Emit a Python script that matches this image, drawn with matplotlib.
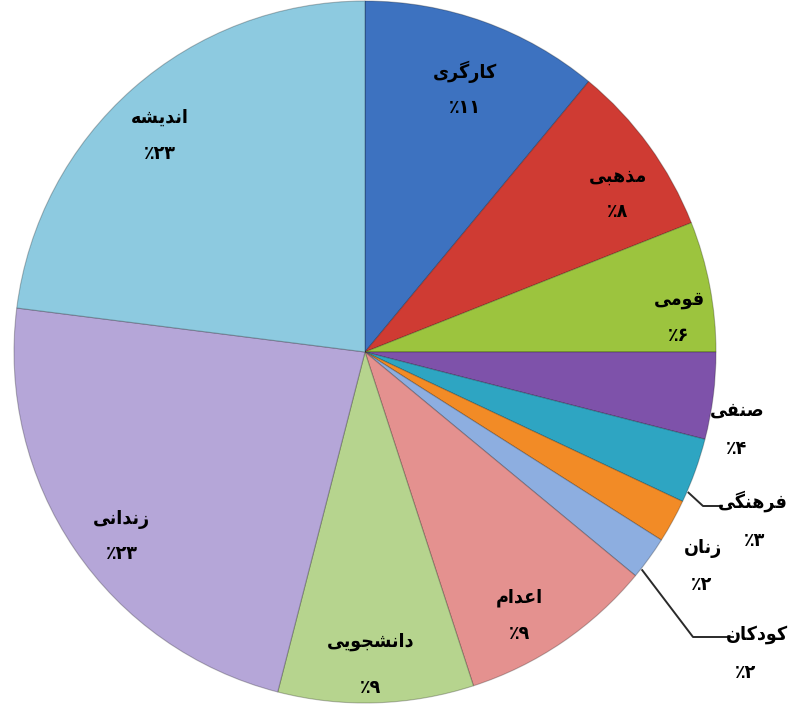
import matplotlib
matplotlib.use("Agg")
import matplotlib.pyplot as plt
import numpy as np

# ---- data ----
categories = ["کارگری", "مذهبی", "قومی", "صنفی", "فرهنگی", "زنان",
              "کودکان", "اعدام", "دانشجویی", "زندانی", "اندیشه"]
values = [11, 8, 6, 4, 3, 2, 2, 9, 9, 23, 23]
colors = ["#3d72c0", "#cf3b33", "#9cc43e", "#7e52aa", "#2ea5c2", "#f28b26",
          "#8daee0", "#e4918f", "#b6d48e", "#b5a6d8", "#8dcae0"]

# ---- minimal Arabic/Persian shaping (presentation forms, visual order) ----
FORMS = {
    "ا": ("\uFE8D", "\uFE8E"), "د": ("\uFEA9", "\uFEAA"), "ذ": ("\uFEAB", "\uFEAC"),
    "ر": ("\uFEAD", "\uFEAE"), "ز": ("\uFEAF", "\uFEB0"), "و": ("\uFEED", "\uFEEE"),
    "ب": ("\uFE8F", "\uFE90", "\uFE91", "\uFE92"),
    "ج": ("\uFE9D", "\uFE9E", "\uFE9F", "\uFEA0"),
    "ش": ("\uFEB5", "\uFEB6", "\uFEB7", "\uFEB8"),
    "ص": ("\uFEB9", "\uFEBA", "\uFEBB", "\uFEBC"),
    "ع": ("\uFEC9", "\uFECA", "\uFECB", "\uFECC"),
    "ف": ("\uFED1", "\uFED2", "\uFED3", "\uFED4"),
    "ق": ("\uFED5", "\uFED6", "\uFED7", "\uFED8"),
    "م": ("\uFEE1", "\uFEE2", "\uFEE3", "\uFEE4"),
    "ن": ("\uFEE5", "\uFEE6", "\uFEE7", "\uFEE8"),
    "ه": ("\uFEE9", "\uFEEA", "\uFEEB", "\uFEEC"),
    "ک": ("\uFB8E", "\uFB8F", "\uFB90", "\uFB91"),
    "گ": ("\uFB92", "\uFB93", "\uFB94", "\uFB95"),
    "ی": ("\uFBFC", "\uFBFD", "\uFBFE", "\uFBFF"),
}


def shape(word):
    out = []
    n = len(word)
    for i, ch in enumerate(word):
        f = FORMS.get(ch)
        if f is None:
            out.append(ch)
            continue
        prev_joins = i > 0 and word[i - 1] in FORMS and len(FORMS[word[i - 1]]) == 4
        next_exists = i < n - 1 and word[i + 1] in FORMS
        dual = len(f) == 4
        if prev_joins and dual and next_exists:
            out.append(f[3])
        elif prev_joins:
            out.append(f[1])
        elif dual and next_exists:
            out.append(f[2])
        else:
            out.append(f[0])
    return "".join(reversed(out))


PDIG = str.maketrans("0123456789", "۰۱۲۳۴۵۶۷۸۹")


def pct(v):
    return "٪" + str(v).translate(PDIG)


# ---- figure ----
W, H = 790, 709
fig = plt.figure(figsize=(W / 100, H / 100), dpi=100)
ax = fig.add_axes([0, 0, 1, 1])
cx, cy, R = 365, H - 352, 351

wedges, _ = ax.pie(values, colors=colors, startangle=90, counterclock=False,
                   center=(cx, cy), radius=R,
                   wedgeprops=dict(edgecolor=(0, 0, 0, 0.25), linewidth=0.8))
ax.set_xlim(0, W)
ax.set_ylim(0, H)
ax.set_aspect("equal")
ax.axis("off")

# inside labels: index -> (radial fraction, angle offset in degrees, half gap)
inside = {0: (0.80, -1.0, 18), 1: (0.85, -4.0, 18), 2: (0.90, -4.6, 18),
          7: (0.87, -3.8, 18), 8: (0.89, -0.8, 23), 9: (0.87, 3.0, 17),
          10: (0.85, 2.0, 18)}
font = dict(family=["DejaVu Sans"], fontweight="bold", fontstretch="condensed",
            fontsize=14, color="black", ha="center", va="center")

for i, w in enumerate(wedges):
    if i in inside:
        frac, off, gap = inside[i]
        th = np.deg2rad((w.theta1 + w.theta2) / 2 + off)
        r = R * frac
        x, y = cx + r * np.cos(th), cy + r * np.sin(th)
        ax.text(x, y + gap, shape(categories[i]), **font)
        ax.text(x, y - gap, pct(values[i]), **font)


def outside(i, name_xy, pct_xy, line=None, off=0.0, name_ha="center"):
    f = dict(font)
    f["ha"] = name_ha
    ax.text(name_xy[0], H - name_xy[1], shape(categories[i]), **f)
    ax.text(pct_xy[0], H - pct_xy[1], pct(values[i]), **font)
    if line is not None:
        w = wedges[i]
        th = np.deg2rad((w.theta1 + w.theta2) / 2 + off)
        x0, y0 = cx + R * 1.005 * np.cos(th), cy + R * 1.005 * np.sin(th)
        xs = [x0] + [p[0] for p in line]
        ys = [y0] + [H - p[1] for p in line]
        ax.plot(xs, ys, color="#2a2a2a", lw=1.4)


outside(3, (737, 410), (737, 448))
outside(4, (788, 501), (755, 540), line=[(703, 506), (722, 506)], off=-3.7,
        name_ha="right")
outside(5, (703, 548), (702, 585))
outside(6, (788, 634), (746, 672), line=[(693, 637), (733, 637)], off=-2.2,
        name_ha="right")

fig.savefig("out.png", dpi=100)
